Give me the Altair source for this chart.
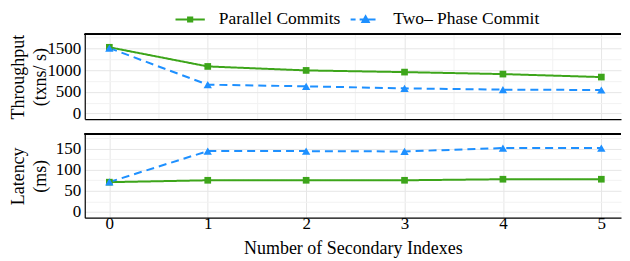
import altair as alt
import pandas as pd

idx = [0, 1, 2, 3, 4, 5]
series_names = ["Parallel Commits", "Two\u2013 Phase Commit"]
thr_pc = [1530, 1087, 995, 956, 910, 841]
thr_2pc = [1510, 665, 627, 580, 550, 542]
lat_pc = [70.5, 75, 75, 75, 77.5, 77.5]
lat_2pc = [71, 144.3, 144.3, 143.5, 151.6, 151.6]

colors = ["#3DA51A", "#1E90FF"]
dashes = [[1, 0], [8, 5]]

rows = []
for i, x in enumerate(idx):
    rows.append({"idx": x, "series": series_names[0], "thr": thr_pc[i], "lat": lat_pc[i]})
    rows.append({"idx": x, "series": series_names[1], "thr": thr_2pc[i], "lat": lat_2pc[i]})
df = pd.DataFrame(rows)

FONT = "Liberation Serif"
W, H1, H2 = 538, 85, 84

cscale = alt.Scale(domain=series_names, range=colors)
# legend glyphs: line + marker, marker filled with short strokes
shape_leg = alt.Scale(
    domain=series_names,
    range=[
        "M-2.1,0H2.1M-0.3,-0.3H0.3V0.3H-0.3Z",
        "M-2,0H-1.29M-0.71,0H1.57M0.14,-0.45L0.59,0.35L-0.31,0.35Z"
        "M0.056,-0.3H0.224M-0.057,-0.1H0.337M-0.17,0.1H0.45M-0.27,0.28H0.55",
    ],
)

xscale = alt.Scale(domain=[-0.25, 5.20], nice=False, zero=False)
x_vals = [i * 0.5 for i in range(11)]
x_grid = {"condition": {"test": "datum.value % 1 !== 0", "value": "#F2F2F2"}, "value": "#E6E6E6"}


def x_axis(show):
    if show:
        return alt.Axis(values=x_vals, format="d",
                        labelExpr="datum.value % 1 === 0 ? datum.label : ''",
                        gridColor=x_grid, title="Number of Secondary Indexes",
                        labelPadding=-2, titlePadding=8)
    return alt.Axis(values=x_vals, labels=False, gridColor=x_grid, title=None)


leg = alt.Legend(title=None, orient="none", legendX=90, legendY=-24, direction="horizontal",
                 symbolSize=196, symbolOffset=7, labelOffset=20, symbolStrokeWidth=2,
                 symbolOpacity=1, labelFontSize=17.5, labelFont=FONT, labelColor="black",
                 columnPadding=5, padding=0, labelLimit=0)


def panel(field, ydom, yvals, major, title, show_x, height, legend):
    y_grid = {"condition": {"test": f"datum.value % {major} !== 0", "value": "#F2F2F2"}, "value": "#E6E6E6"}
    y = alt.Y(f"{field}:Q", scale=alt.Scale(domain=ydom, nice=False, zero=False),
              axis=alt.Axis(values=yvals, labelExpr=f"datum.value % {major} === 0 ? datum.label : ''",
                            format="d", gridColor=y_grid, title=title, titleX=-57,
                            titleLineHeight=22, labelPadding=4))
    x = alt.X("idx:Q", scale=xscale, axis=x_axis(show_x))
    base = alt.Chart(df)
    layers = []
    for s, c, d in zip(series_names, colors, dashes):
        layers.append(base.transform_filter(alt.datum.series == s).mark_line(
            strokeWidth=2, color=c, strokeDash=d).encode(x=x, y=y))
    layers.append(base.transform_filter(alt.datum.series == series_names[0]).mark_point(
        shape="square", filled=True, opacity=1, size=45, color=colors[0]).encode(x=x, y=y))
    layers.append(base.transform_filter(alt.datum.series == series_names[1]).mark_point(
        shape="triangle-up", filled=True, opacity=1, size=70, color=colors[1]).encode(x=x, y=y))
    if legend:
        layers.append(base.mark_point(filled=False, opacity=0).encode(
            x=x, y=y,
            color=alt.Color("series:N", scale=cscale, legend=leg),
            shape=alt.Shape("series:N", scale=shape_leg, legend=leg),
        ))
    layers.append(base.mark_rule(color="black", strokeWidth=1.2).encode(
        x=alt.value(0), x2=alt.value("width"), y=alt.value(0)))
    return alt.layer(*layers).properties(width=W, height=height)


top = panel("thr", [-130, 1830], list(range(0, 1751, 250)), 500,
            ["Throughput", "(txns/ s)"], False, H1, True)
bottom = panel("lat", [-14, 185], list(range(0, 176, 25)), 50,
               ["Latency", "(ms)"], True, H2, False)

chart = alt.vconcat(top, bottom, spacing=11).properties(
    padding={"left": 2, "top": 2, "right": 0, "bottom": 0}, background="white"
).configure_view(stroke=None).configure_axis(
    labelFont=FONT, titleFont=FONT, labelFontSize=17, titleFontSize=18,
    labelColor="black", titleColor="black", titleFontWeight="normal",
    ticks=False, domainColor="black", domainWidth=1.2, gridWidth=1,
)

chart.save("out.html", embed_options={"renderer": "svg", "actions": False})
